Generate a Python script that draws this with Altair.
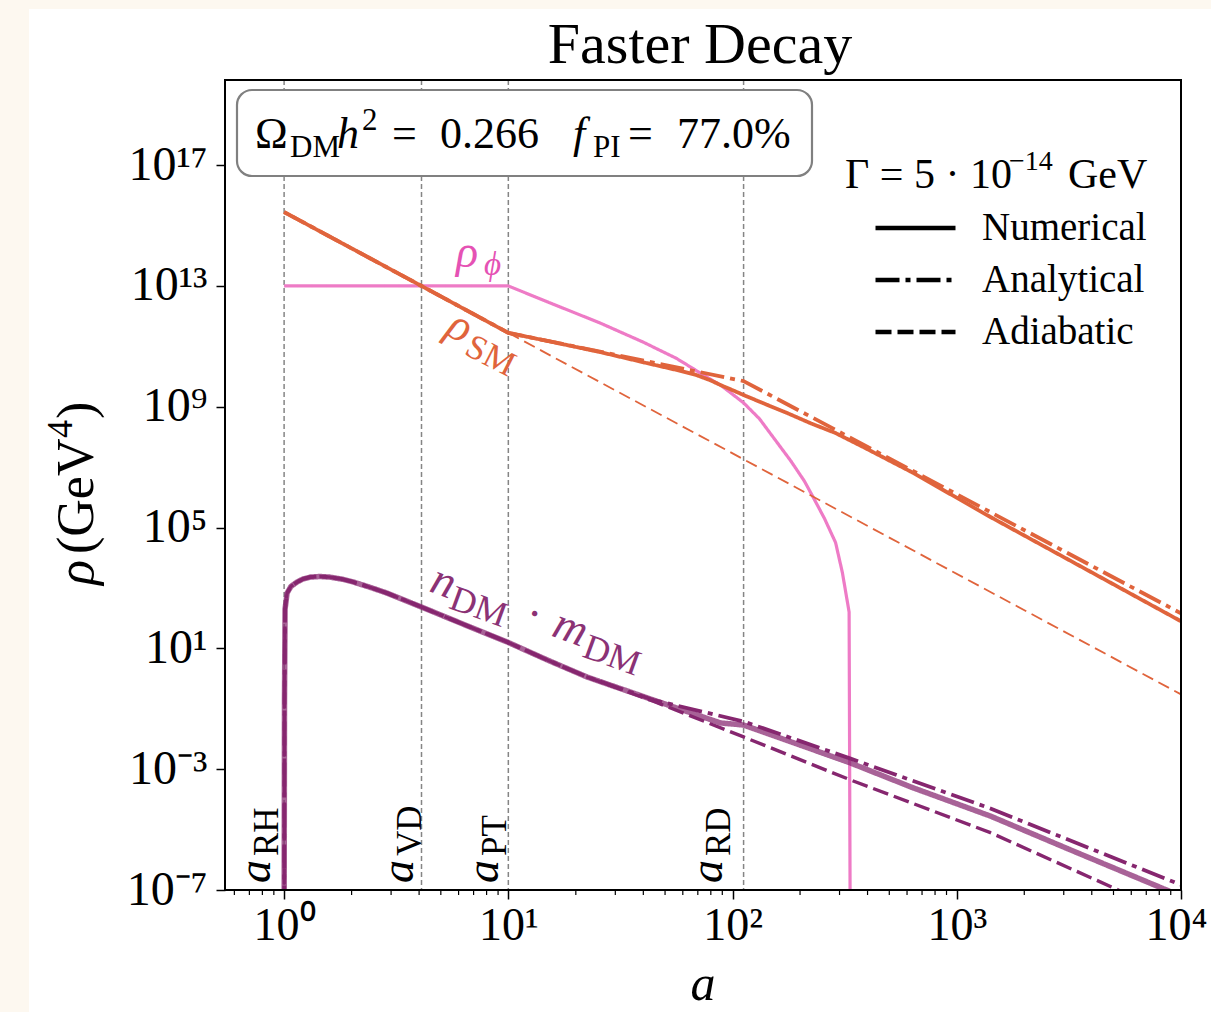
import altair as alt
import pandas as pd

FONT = "Liberation Serif"
W, H = 956, 810          # plot area
L, T = 225, 80           # plot origin in the page

# ---------------- axis ticks ----------------
x_ticks = [1, 10, 100, 1000, 10000]
x_tick_labels = ["10⁰", "10¹", "10²", "10³", "10⁴"]
y_ticks = [1e-7, 1e-3, 1e1, 1e5, 1e9, 1e13, 1e17]
y_tick_labels = ["10⁻⁷", "10⁻³", "10¹", "10⁵", "10⁹", "10¹³", "10¹⁷"]
x_minor = [0.6, 0.7, 0.8, 0.9, 2, 3, 4, 5, 6, 7, 8, 9, 20, 30, 40, 50, 60, 70, 80, 90,
           200, 300, 400, 500, 600, 700, 800, 900, 2000, 3000, 4000, 5000, 6000, 7000, 8000, 9000]

# ---------------- vertical markers ----------------
markers = [1, 4.1, 10, 112]
marker_subs = ["RH", "VD", "PT", "RD"]

methods = ["Numerical", "Analytical", "Adiabatic"]

# ---------------- curves ----------------
sm_num_a = [1, 4.1, 10, 15.85, 25.7, 39.8, 56.2, 69, 79.4, 89.1, 100, 112, 141, 178,
            224, 288, 398, 631, 1413, 10000]
sm_num_rho = [2.8e15, 1.0e13, 2.8e11, 1.38e11, 6.46e10, 3.0e10, 1.66e10, 1.12e10, 7.6e9,
              5.1e9, 3.55e9, 2.45e9, 1.2e9, 5.9e8, 2.8e8, 1.35e8, 4.0e7, 6.8e6, 2.24e5, 79]

sm_ana_a = [1, 4.1, 10, 112, 10000]
sm_ana_rho = [2.8e15, 1.0e13, 2.8e11, 7.1e9, 1.45e2]

sm_adi_a = [10, 10000]
sm_adi_rho = [2.8e11, 0.3]

phi_a = [1, 10, 15.85, 25.7, 39.8, 56.2, 72.4, 89.1, 112, 131.8, 154.9, 182, 208.9,
         229, 257, 288, 309, 331, 335]
phi_rho = [1e13, 1e13, 2.5e12, 5.9e11, 1.4e11, 4.0e10, 1.26e10, 5.0e9, 1.35e9, 4.0e8,
           8.0e7, 1.6e7, 3.5e6, 1.0e6, 2.0e5, 3.2e4, 3.2e3, 1.6e2, 1e-9]

dm_num_a = [1.0, 1.004, 1.01, 1.031, 1.072, 1.143, 1.216, 1.306, 1.445, 1.6, 1.82, 2.03,
            2.4, 2.88, 4.1, 6.3, 9.9, 15.1, 22.5, 44.4, 88.3, 112, 200, 336, 631, 1413,
            3162, 10000]
dm_num_rho = [1e-9, 0.2, 200, 676, 1122, 1585, 1995, 2290, 2399, 2290, 1950, 1585,
              1072, 676, 234, 63.1, 16.2, 3.98, 1.12, 0.195, 0.034, 0.029, 6.3e-3,
              1.6e-3, 2.5e-4, 2.8e-5, 2.24e-6, 6.3e-8]

dm_ana_a = dm_num_a[:20] + [112, 336, 1413, 10000]
dm_ana_rho = dm_num_rho[:20] + [0.038, 2.24e-3, 5.0e-5, 1.48e-7]

dm_adi_a = dm_num_a[:19] + [44.4, 112, 336, 1413, 5250, 10000]
dm_adi_rho = dm_num_rho[:19] + [0.178, 0.0117, 4.4e-4, 7.9e-6, 1e-7, 1.4e-8]

# ---------------- colours ----------------
ORANGE = "#e0643c"
PINK = "#ee7bc6"
PURPLE = "#86266f"
GRAY = "#858585"


def label_expr(vals, labs):
    s = ""
    for v, l in zip(vals[:-1], labs[:-1]):
        s += f"datum.value < {v * 2} ? '{l}' : "
    return s + f"'{labs[-1]}'"


xenc = alt.X("a:Q",
             scale=alt.Scale(type="log", domain=[0.545, 10000], nice=False),
             axis=alt.Axis(values=x_ticks, labelExpr=label_expr(x_ticks, x_tick_labels),
                           title=None, grid=False, domain=False, tickSize=9, tickWidth=1.5,
                           tickColor="black", labelFont=FONT, labelFontSize=46,
                           labelColor="black", labelPadding=4, labelOverlap=False,
                           labelFlush=False, zindex=1,
                           labelOffset=alt.condition("datum.value > 5000",
                                                     alt.value(-5), alt.value(0))))
yenc = alt.Y("rho:Q",
             scale=alt.Scale(type="log", domain=[1e-7, 6.6e19], nice=False),
             axis=alt.Axis(values=y_ticks, labelExpr=label_expr(y_ticks, y_tick_labels),
                           title=None, grid=False, domain=False, tickSize=9, tickWidth=1.5,
                           tickColor="black", labelFont=FONT, labelFontSize=48,
                           labelColor="black", labelPadding=9, labelOverlap=False,
                           labelFlush=False, zindex=1))

legend = alt.Legend(title=None, orient="none", legendX=648, legendY=128, padding=0,
                    symbolType="stroke", symbolSize=6400, symbolStrokeWidth=4.5,
                    symbolStrokeColor="black", symbolOpacity=1, labelFont=FONT,
                    labelFontSize=39, labelColor="black", labelOffset=24, labelLimit=0,
                    clipHeight=40, rowPadding=12)
dash = alt.StrokeDash("method:N",
                      scale=alt.Scale(domain=methods, range=[[1, 0], [24, 6, 5, 6], [16, 6]]),
                      legend=legend)


def frame(a, rho, method, sw, op=1.0):
    return pd.DataFrame({"a": a, "rho": rho, "method": method, "sw": sw, "op": op,
                         "i": list(range(len(a)))})


def lines(df, color):
    return alt.Chart(df).mark_line(clip=True, color=color, strokeCap="butt",
                                   strokeJoin="round").encode(
        x=xenc, y=yenc, strokeDash=dash,
        strokeWidth=alt.StrokeWidth("sw:Q", scale=None, legend=None),
        opacity=alt.Opacity("op:Q", scale=None, legend=None),
        order=alt.Order("i:Q"))


one = pd.DataFrame({"k": [0]})


def txt(s, x, y, size, italic=False, color="black", angle=0, dx=0, dy=0, align="left"):
    return alt.Chart(one).mark_text(
        text=s, font=FONT, fontSize=size, fontStyle="italic" if italic else "normal",
        color=color, angle=angle, dx=dx, dy=dy, align=align, baseline="alphabetic"
    ).encode(x=alt.value(x - L), y=alt.value(y - T))


def box(x1, x2, y1, y2, **kw):
    return alt.Chart(one).mark_rect(**kw).encode(
        x=alt.value(x1 - L), x2=alt.value(x2 - L), y=alt.value(y1 - T), y2=alt.value(y2 - T))


CREAM = "#fdf8f0"
layers = [
    box(0, 29, 0, 1012, fill=CREAM, strokeWidth=0),
    box(0, 1211, 0, 9, fill=CREAM, strokeWidth=0),
    alt.Chart(pd.DataFrame({"a": markers})).mark_rule(
        color=GRAY, strokeWidth=1.5, strokeDash=[5, 3]).encode(x=xenc),
    alt.Chart(pd.DataFrame({"a": x_minor})).mark_rule(
        color="black", strokeWidth=1.2).encode(x=xenc, y=alt.value(H), y2=alt.value(H + 5)),
    lines(frame(phi_a, phi_rho, "Numerical", 3.2), PINK),
    alt.Chart(frame(sm_adi_a, sm_adi_rho, "Adiabatic", 1.8)).mark_line(
        clip=True, color=ORANGE, strokeWidth=1.8, strokeDash=[12, 6]).encode(x=xenc, y=yenc),
    lines(pd.concat([frame(sm_num_a, sm_num_rho, "Numerical", 3.8),
                     frame(sm_ana_a, sm_ana_rho, "Analytical", 3.8)]), ORANGE),
    lines(pd.concat([frame(dm_num_a, dm_num_rho, "Numerical", 5.5, 0.72),
                     frame(dm_ana_a, dm_ana_rho, "Analytical", 3.8),
                     frame(dm_adi_a, dm_adi_rho, "Adiabatic", 3.4)]), PURPLE),
    box(225, 225 + W, 80, 80 + H, filled=False, stroke="black", strokeWidth=2),
    box(237, 812, 90, 176, fill="white", stroke="#808080", strokeWidth=2.2, cornerRadius=15),
]

texts = [
    # title
    txt("Faster Decay", 700, 63, 58, align="center"),
    # annotation box
    txt("Ω", 255, 148, 44), txt("DM", 290, 157, 31),
    txt("h", 337, 148, 44, italic=True), txt("2", 362, 130, 31),
    txt("=", 392, 148, 44), txt("0.266", 440, 148, 44),
    txt("f", 573, 148, 44, italic=True), txt("PI", 593, 157, 31),
    txt("=", 628, 148, 44), txt("77.0%", 677, 148, 44),
    # legend title
    txt("Γ = 5 · 10", 845, 188, 42), txt("−14", 1009, 170, 28), txt("GeV", 1068, 188, 42),
    # curve labels
    txt("ρ", 456, 267, 46, italic=True, color="#e552b4"),
    txt("ϕ", 484, 275, 33, italic=True, color="#e552b4"),
    txt("ρ", 444, 334, 46, italic=True, color=ORANGE, angle=27),
    txt("SM", 444, 334, 35, color=ORANGE, angle=27, dx=26, dy=9),
    txt("n", 428, 591, 46, italic=True, color="#8b3275", angle=20),
    txt("DM", 428, 591, 36, color="#8b3275", angle=20, dx=24, dy=9),
    txt("·", 428, 591, 46, color="#8b3275", angle=20, dx=108, align="center"),
    txt("m", 428, 591, 46, italic=True, color="#8b3275", angle=20, dx=130),
    txt("DM", 428, 591, 36, color="#8b3275", angle=20, dx=166, dy=9),
    # axis titles
    txt("a", 703, 1000, 50, italic=True, align="center"),
    txt("ρ", 93, 585, 52, italic=True, angle=270),
    txt("(GeV", 93, 585, 52, angle=270, dx=31),
    txt("4", 93, 585, 36, angle=270, dx=147, dy=-21),
    txt(")", 93, 585, 52, angle=270, dx=166),
]
for xb, sub in zip([270, 413, 498, 722], marker_subs):
    texts.append(txt("a", xb, 883, 46, italic=True, angle=270))
    texts.append(txt(sub, xb, 883, 35, angle=270, dx=27, dy=8))

chart = alt.layer(*layers, *texts).properties(
    width=W, height=H,
    padding={"left": L, "top": T, "right": 1211 - L - W, "bottom": 1012 - T - H},
    autosize=alt.AutoSizeParams(type="none"),
    background="white",
).configure_view(strokeWidth=0).configure(font=FONT)

chart.save("out.html", embed_options={"renderer": "svg", "actions": False})
